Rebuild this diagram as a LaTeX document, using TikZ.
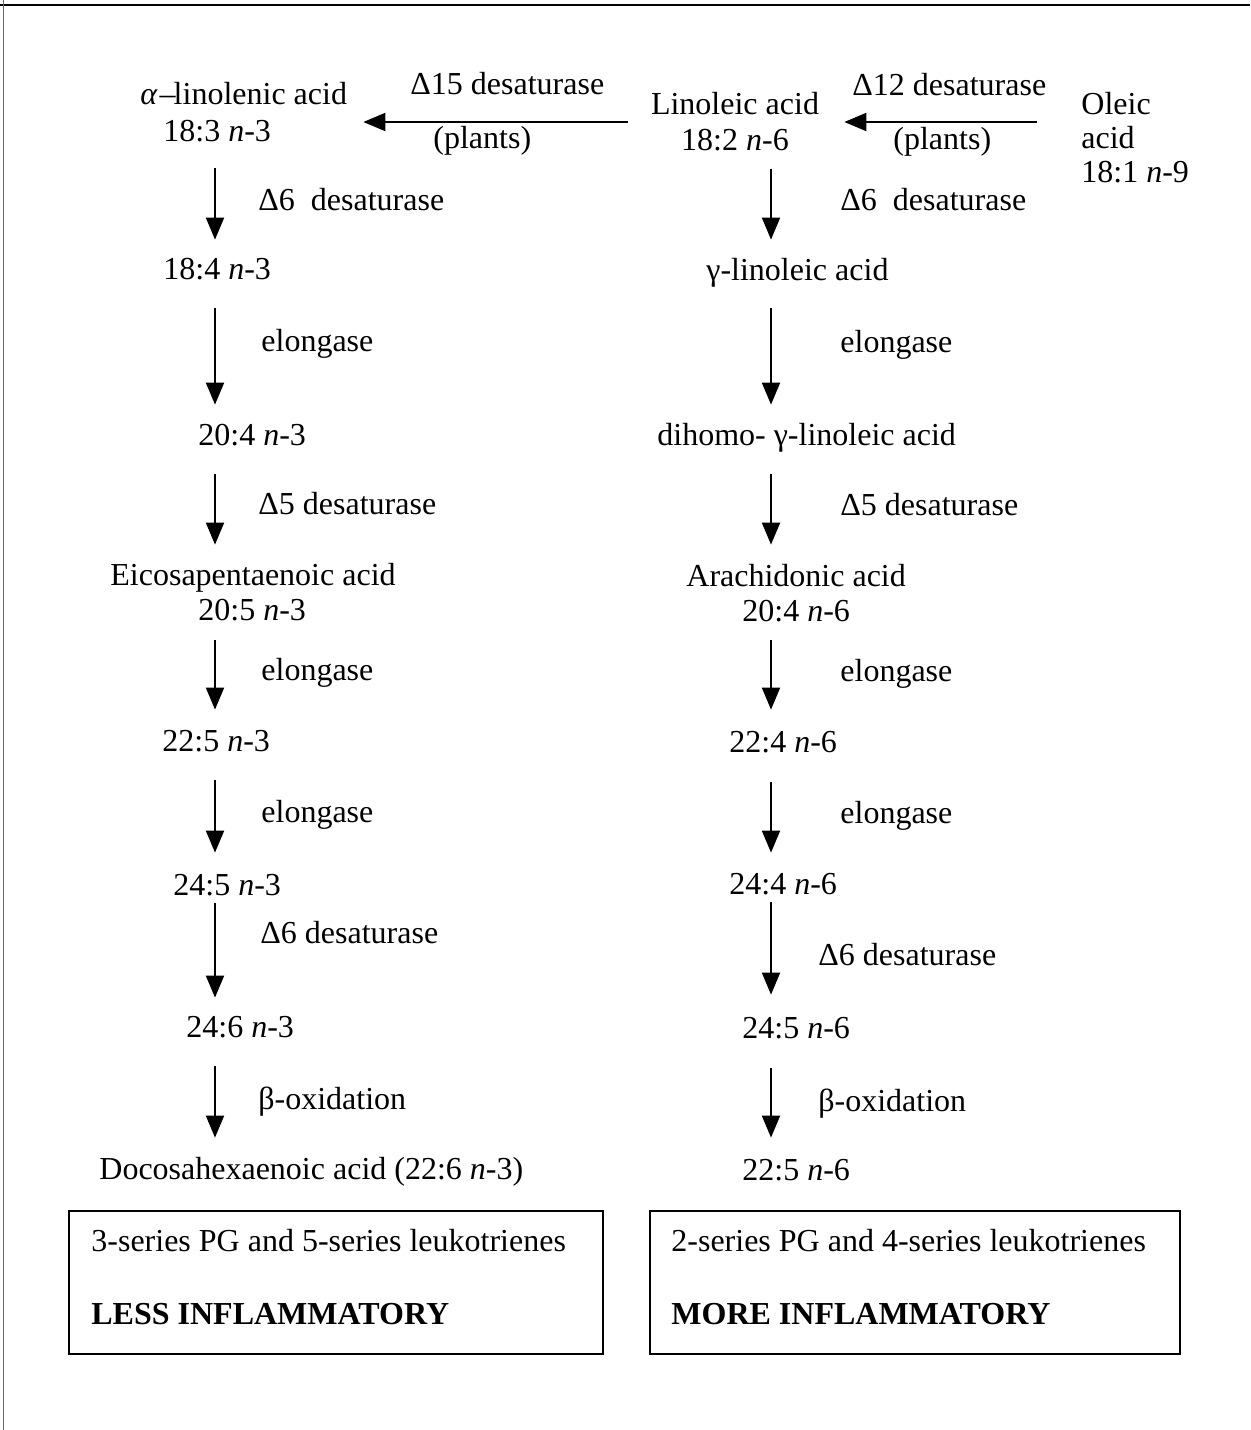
\documentclass[tikz,border=0pt]{standalone}
\usepackage{fontspec}
\setmainfont{Liberation Serif}
\usetikzlibrary{arrows.meta}
\begin{document}
\begin{tikzpicture}[x=0.5pt,y=-0.5pt,
  every node/.style={inner sep=0pt,font=\fontsize{16pt}{18pt}\selectfont},
  chem/.style={anchor=base west,text height=11.2pt,text depth=4pt},
  lbl/.style={anchor=base west},
  arr/.style={line width=1pt,-{Triangle[width=9pt,length=11pt]}},
  boxstyle/.style={draw,line width=1pt,minimum width=267pt,minimum height=71.5pt}
]
\useasboundingbox (0,0) rectangle (1250,1430);
% frame (top and left edges)
\draw[line width=1pt] (0,5) -- (1250,5);
\draw[line width=0.5pt,black!60] (3,0) -- (3,1430);

\coordinate (axL) at (215,0);
\coordinate (axR) at (771,0);

% top row
\node[lbl] (alpha1) at (140,104) {\textit{α}\kern1pt–\kern-1ptlinolenic acid};
\node[chem] (alpha2) at (163,141) {18:3 \textit{n}-3};
\node[align=center] (lino) at (735,122) {Linoleic acid\\18:2 \textit{n}-6};
\node[lbl] (oleic1) at (1081,114) {Oleic};
\node[lbl] (oleic2) at (1081,148) {acid};
\node[lbl] (oleic3) at (1081,182) {18:1 \textit{n}-9};
\node[lbl] (d15) at (410,94) {Δ15 desaturase};
\node[lbl] (p1) at (433,148) {(plants)};
\node[lbl] (d12) at (852,95) {Δ12 desaturase};
\node[lbl] (p2) at (893,149) {(plants)};
\draw[arr,shorten <=11.5pt,shorten >=46pt] (lino.west) -- (lino.west -| alpha2.east);
\draw[arr,shorten <=22pt,shorten >=12.5pt] (lino.east -| oleic1.west) -- (lino.east);

% left column
\node[chem] (L2) at (163,279) {18:4 \textit{n}-3};
\node[chem] (L3) at (198,445) {20:4 \textit{n}-3};
\node[chem] (L4a) at (110,585) {Eicosapentaenoic acid};
\node[chem] (L4b) at (198,620) {20:5 \textit{n}-3};
\node[chem] (L5) at (162,751) {22:5 \textit{n}-3};
\node[chem] (L6) at (173,895) {24:5 \textit{n}-3};
\node[chem] (L7) at (186,1037) {24:6 \textit{n}-3};
\node[chem] (L8) at (99,1179) {Docosahexaenoic acid (22:6 \textit{n}-3)};

\node[lbl] (la1) at (258,210) {Δ6\ \ desaturase};
\node[lbl] (la2) at (261,351) {elongase};
\node[lbl] (la3) at (258,514) {Δ5 desaturase};
\node[lbl] (la4) at (261,680) {elongase};
\node[lbl] (la5) at (261,822) {elongase};
\node[lbl] (la6) at (260,943) {Δ6 desaturase};
\node[lbl] (la7) at (258,1109) {β-oxidation};

\draw[arr,shorten <=9.5pt,shorten >=8.3pt] (alpha2.south -| axL) -- (L2.north -| axL);
\draw[arr,shorten <=10.5pt,shorten >=8.8pt] (L2.south -| axL) -- (L3.north -| axL);
\draw[arr,shorten <=10.5pt,shorten >=8.8pt] (L3.south -| axL) -- (L4a.north -| axL);
\draw[arr,shorten <=6pt,shorten >=9.3pt] (L4b.south -| axL) -- (L5.north -| axL);
\draw[arr,shorten <=10.5pt,shorten >=9.8pt] (L5.south -| axL) -- (L6.north -| axL);
\draw[arr,shorten <=0pt,shorten >=8.3pt] (L6.south -| axL) -- (L7.north -| axL);
\draw[arr,shorten <=10.5pt,shorten >=9.3pt] (L7.south -| axL) -- (L8.north -| axL);

% right column
\node[chem] (R2) at (706,280) {γ-linoleic acid};
\node[chem] (R3) at (657,445) {dihomo- γ-linoleic acid};
\node[chem] (R4a) at (686,586) {Arachidonic acid};
\node[chem] (R4b) at (742,621) {20:4 \textit{n}-6};
\node[chem] (R5) at (729,752) {22:4 \textit{n}-6};
\node[chem] (R6) at (729,894) {24:4 \textit{n}-6};
\node[chem] (R7) at (742,1038) {24:5 \textit{n}-6};
\node[chem] (R8) at (742,1180) {22:5 \textit{n}-6};

\node[lbl] (ra1) at (840,210) {Δ6\ \ desaturase};
\node[lbl] (ra2) at (840,352) {elongase};
\node[lbl] (ra3) at (840,515) {Δ5 desaturase};
\node[lbl] (ra4) at (840,681) {elongase};
\node[lbl] (ra5) at (840,823) {elongase};
\node[lbl] (ra6) at (818,965) {Δ6 desaturase};
\node[lbl] (ra7) at (818,1111) {β-oxidation};

\draw[arr,shorten <=8.5pt,shorten >=8.8pt] (lino.south -| axR) -- (R2.north -| axR);
\draw[arr,shorten <=10pt,shorten >=8.8pt] (R2.south -| axR) -- (R3.north -| axR);
\draw[arr,shorten <=10.5pt,shorten >=9.3pt] (R3.south -| axR) -- (R4a.north -| axR);
\draw[arr,shorten <=5.5pt,shorten >=9.8pt] (R4b.south -| axR) -- (R5.north -| axR);
\draw[arr,shorten <=11pt,shorten >=9.3pt] (R5.south -| axR) -- (R6.north -| axR);
\draw[arr,shorten <=0pt,shorten >=10.3pt] (R6.south -| axR) -- (R7.north -| axR);
\draw[arr,shorten <=11pt,shorten >=9.8pt] (R7.south -| axR) -- (R8.north -| axR);

% boxes
\node[boxstyle] (box1) at (336,1282.5) {};
\node[boxstyle,minimum width=265pt] (box2) at (915,1282.5) {};
\node[lbl] (b1t) at (91,1251) {3-series PG and 5-series leukotrienes};
\node[lbl] (b1b) at (91,1324) {\textbf{LESS INFLAMMATORY}};
\node[lbl] (b2t) at (671,1251) {2-series PG and 4-series leukotrienes};
\node[lbl] (b2b) at (671,1324) {\textbf{MORE INFLAMMATORY}};
\end{tikzpicture}
\end{document}
